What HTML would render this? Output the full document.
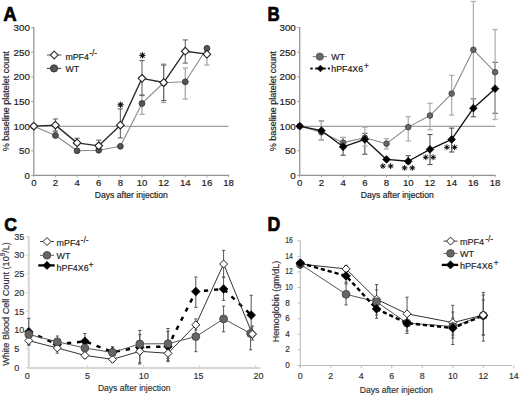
<!DOCTYPE html>
<html><head><meta charset="utf-8"><style>
html,body{margin:0;padding:0;background:#fff;}
body{width:520px;height:395px;overflow:hidden;}
svg{display:block;font-family:"Liberation Sans", sans-serif;}
</style></head><body>
<svg width="520" height="395" viewBox="0 0 520 395">
<rect width="520" height="395" fill="#fff"/>
<text transform="translate(3.30 20.90) scale(0.97 1.04)" x="0" y="0" font-size="19.2" font-weight="bold" fill="#000" stroke="#000" stroke-width="0.7" stroke-linejoin="round">A</text>
<line x1="33.80" y1="126.43" x2="228.40" y2="126.43" stroke="#a0a0a0" stroke-width="1.3" stroke-linecap="butt"/>
<line x1="33.80" y1="26.99" x2="33.80" y2="176.00" stroke="#939393" stroke-width="1.25" stroke-linecap="butt"/>
<line x1="33.20" y1="175.40" x2="229.16" y2="175.40" stroke="#939393" stroke-width="1.25" stroke-linecap="butt"/>
<line x1="31.20" y1="175.40" x2="33.80" y2="175.40" stroke="#a0a0a0" stroke-width="1.0" stroke-linecap="butt"/>
<text x="29.90" y="178.90" font-size="9.8" text-anchor="end" fill="#1a1a1a" stroke="#1a1a1a" stroke-width="0.18">0</text>
<line x1="31.20" y1="150.77" x2="33.80" y2="150.77" stroke="#a0a0a0" stroke-width="1.0" stroke-linecap="butt"/>
<text x="29.90" y="154.27" font-size="9.8" text-anchor="end" fill="#1a1a1a" stroke="#1a1a1a" stroke-width="0.18">50</text>
<line x1="31.20" y1="126.13" x2="33.80" y2="126.13" stroke="#a0a0a0" stroke-width="1.0" stroke-linecap="butt"/>
<text x="29.90" y="129.63" font-size="9.8" text-anchor="end" fill="#1a1a1a" stroke="#1a1a1a" stroke-width="0.18">100</text>
<line x1="31.20" y1="101.50" x2="33.80" y2="101.50" stroke="#a0a0a0" stroke-width="1.0" stroke-linecap="butt"/>
<text x="29.90" y="105.00" font-size="9.8" text-anchor="end" fill="#1a1a1a" stroke="#1a1a1a" stroke-width="0.18">150</text>
<line x1="31.20" y1="76.86" x2="33.80" y2="76.86" stroke="#a0a0a0" stroke-width="1.0" stroke-linecap="butt"/>
<text x="29.90" y="80.36" font-size="9.8" text-anchor="end" fill="#1a1a1a" stroke="#1a1a1a" stroke-width="0.18">200</text>
<line x1="31.20" y1="52.22" x2="33.80" y2="52.22" stroke="#a0a0a0" stroke-width="1.0" stroke-linecap="butt"/>
<text x="29.90" y="55.72" font-size="9.8" text-anchor="end" fill="#1a1a1a" stroke="#1a1a1a" stroke-width="0.18">250</text>
<line x1="31.20" y1="27.59" x2="33.80" y2="27.59" stroke="#a0a0a0" stroke-width="1.0" stroke-linecap="butt"/>
<text x="29.90" y="31.09" font-size="9.8" text-anchor="end" fill="#1a1a1a" stroke="#1a1a1a" stroke-width="0.18">300</text>
<line x1="33.80" y1="175.40" x2="33.80" y2="177.40" stroke="#a8a8a8" stroke-width="1.0" stroke-linecap="butt"/>
<text x="33.80" y="186.10" font-size="9.6" text-anchor="middle" fill="#1a1a1a" stroke="#1a1a1a" stroke-width="0.18">0</text>
<line x1="55.44" y1="175.40" x2="55.44" y2="177.40" stroke="#a8a8a8" stroke-width="1.0" stroke-linecap="butt"/>
<text x="55.44" y="186.10" font-size="9.6" text-anchor="middle" fill="#1a1a1a" stroke="#1a1a1a" stroke-width="0.18">2</text>
<line x1="77.08" y1="175.40" x2="77.08" y2="177.40" stroke="#a8a8a8" stroke-width="1.0" stroke-linecap="butt"/>
<text x="77.08" y="186.10" font-size="9.6" text-anchor="middle" fill="#1a1a1a" stroke="#1a1a1a" stroke-width="0.18">4</text>
<line x1="98.72" y1="175.40" x2="98.72" y2="177.40" stroke="#a8a8a8" stroke-width="1.0" stroke-linecap="butt"/>
<text x="98.72" y="186.10" font-size="9.6" text-anchor="middle" fill="#1a1a1a" stroke="#1a1a1a" stroke-width="0.18">6</text>
<line x1="120.36" y1="175.40" x2="120.36" y2="177.40" stroke="#a8a8a8" stroke-width="1.0" stroke-linecap="butt"/>
<text x="120.36" y="186.10" font-size="9.6" text-anchor="middle" fill="#1a1a1a" stroke="#1a1a1a" stroke-width="0.18">8</text>
<line x1="142.00" y1="175.40" x2="142.00" y2="177.40" stroke="#a8a8a8" stroke-width="1.0" stroke-linecap="butt"/>
<text x="142.00" y="186.10" font-size="9.6" text-anchor="middle" fill="#1a1a1a" stroke="#1a1a1a" stroke-width="0.18">10</text>
<line x1="163.64" y1="175.40" x2="163.64" y2="177.40" stroke="#a8a8a8" stroke-width="1.0" stroke-linecap="butt"/>
<text x="163.64" y="186.10" font-size="9.6" text-anchor="middle" fill="#1a1a1a" stroke="#1a1a1a" stroke-width="0.18">12</text>
<line x1="185.28" y1="175.40" x2="185.28" y2="177.40" stroke="#a8a8a8" stroke-width="1.0" stroke-linecap="butt"/>
<text x="185.28" y="186.10" font-size="9.6" text-anchor="middle" fill="#1a1a1a" stroke="#1a1a1a" stroke-width="0.18">14</text>
<line x1="206.92" y1="175.40" x2="206.92" y2="177.40" stroke="#a8a8a8" stroke-width="1.0" stroke-linecap="butt"/>
<text x="206.92" y="186.10" font-size="9.6" text-anchor="middle" fill="#1a1a1a" stroke="#1a1a1a" stroke-width="0.18">16</text>
<line x1="228.56" y1="175.40" x2="228.56" y2="177.40" stroke="#a8a8a8" stroke-width="1.0" stroke-linecap="butt"/>
<text x="228.56" y="186.10" font-size="9.6" text-anchor="middle" fill="#1a1a1a" stroke="#1a1a1a" stroke-width="0.18">18</text>
<text x="131.30" y="197.70" font-size="8.6" text-anchor="middle" fill="#1a1a1a" textLength="73" lengthAdjust="spacingAndGlyphs" stroke="#1a1a1a" stroke-width="0.18">Days after injection</text>
<text x="9.00" y="101.30" font-size="9" text-anchor="middle" fill="#1a1a1a" textLength="100" lengthAdjust="spacingAndGlyphs" transform="rotate(-90 9.00 101.30)" stroke="#1a1a1a" stroke-width="0.18">% baseline platelet count</text>
<polyline points="33.80,126.13 55.44,135.49 77.08,150.77 98.72,150.27 120.36,146.33 142.00,103.47 163.64,82.77 185.28,81.79 206.92,48.28" fill="none" stroke="#8a8a8a" stroke-width="1.1" stroke-linejoin="round"/>
<polyline points="33.80,126.13 55.44,125.14 77.08,142.88 98.72,145.84 120.36,125.14 142.00,78.34 163.64,82.53 185.28,51.24 206.92,54.20" fill="none" stroke="#2a2a2a" stroke-width="1.35" stroke-linejoin="round"/>
<line x1="55.44" y1="131.55" x2="55.44" y2="135.49" stroke="#a8a8a8" stroke-width="1.3" stroke-linecap="butt"/>
<line x1="52.84" y1="131.55" x2="58.04" y2="131.55" stroke="#a8a8a8" stroke-width="1.3" stroke-linecap="butt"/>
<line x1="52.84" y1="135.49" x2="58.04" y2="135.49" stroke="#a8a8a8" stroke-width="1.3" stroke-linecap="butt"/>
<line x1="142.00" y1="94.60" x2="142.00" y2="114.31" stroke="#a8a8a8" stroke-width="1.3" stroke-linecap="butt"/>
<line x1="139.40" y1="94.60" x2="144.60" y2="94.60" stroke="#a8a8a8" stroke-width="1.3" stroke-linecap="butt"/>
<line x1="139.40" y1="114.31" x2="144.60" y2="114.31" stroke="#a8a8a8" stroke-width="1.3" stroke-linecap="butt"/>
<line x1="163.64" y1="64.05" x2="163.64" y2="102.48" stroke="#a8a8a8" stroke-width="1.3" stroke-linecap="butt"/>
<line x1="161.04" y1="64.05" x2="166.24" y2="64.05" stroke="#a8a8a8" stroke-width="1.3" stroke-linecap="butt"/>
<line x1="161.04" y1="102.48" x2="166.24" y2="102.48" stroke="#a8a8a8" stroke-width="1.3" stroke-linecap="butt"/>
<line x1="185.28" y1="67.99" x2="185.28" y2="99.03" stroke="#a8a8a8" stroke-width="1.3" stroke-linecap="butt"/>
<line x1="182.68" y1="67.99" x2="187.88" y2="67.99" stroke="#a8a8a8" stroke-width="1.3" stroke-linecap="butt"/>
<line x1="182.68" y1="99.03" x2="187.88" y2="99.03" stroke="#a8a8a8" stroke-width="1.3" stroke-linecap="butt"/>
<line x1="206.92" y1="48.28" x2="206.92" y2="65.04" stroke="#a8a8a8" stroke-width="1.3" stroke-linecap="butt"/>
<line x1="204.32" y1="48.28" x2="209.52" y2="48.28" stroke="#a8a8a8" stroke-width="1.3" stroke-linecap="butt"/>
<line x1="204.32" y1="65.04" x2="209.52" y2="65.04" stroke="#a8a8a8" stroke-width="1.3" stroke-linecap="butt"/>
<line x1="55.44" y1="118.99" x2="55.44" y2="131.06" stroke="#666" stroke-width="1.1" stroke-linecap="butt"/>
<line x1="52.84" y1="118.99" x2="58.04" y2="118.99" stroke="#666" stroke-width="1.1" stroke-linecap="butt"/>
<line x1="52.84" y1="131.06" x2="58.04" y2="131.06" stroke="#666" stroke-width="1.1" stroke-linecap="butt"/>
<line x1="77.08" y1="138.20" x2="77.08" y2="142.88" stroke="#666" stroke-width="1.1" stroke-linecap="butt"/>
<line x1="74.48" y1="138.20" x2="79.68" y2="138.20" stroke="#666" stroke-width="1.1" stroke-linecap="butt"/>
<line x1="74.48" y1="142.88" x2="79.68" y2="142.88" stroke="#666" stroke-width="1.1" stroke-linecap="butt"/>
<line x1="98.72" y1="140.17" x2="98.72" y2="145.84" stroke="#666" stroke-width="1.1" stroke-linecap="butt"/>
<line x1="96.12" y1="140.17" x2="101.32" y2="140.17" stroke="#666" stroke-width="1.1" stroke-linecap="butt"/>
<line x1="96.12" y1="145.84" x2="101.32" y2="145.84" stroke="#666" stroke-width="1.1" stroke-linecap="butt"/>
<line x1="120.36" y1="108.89" x2="120.36" y2="137.95" stroke="#666" stroke-width="1.1" stroke-linecap="butt"/>
<line x1="117.76" y1="108.89" x2="122.96" y2="108.89" stroke="#666" stroke-width="1.1" stroke-linecap="butt"/>
<line x1="117.76" y1="137.95" x2="122.96" y2="137.95" stroke="#666" stroke-width="1.1" stroke-linecap="butt"/>
<line x1="142.00" y1="60.60" x2="142.00" y2="95.58" stroke="#666" stroke-width="1.1" stroke-linecap="butt"/>
<line x1="139.40" y1="60.60" x2="144.60" y2="60.60" stroke="#666" stroke-width="1.1" stroke-linecap="butt"/>
<line x1="139.40" y1="95.58" x2="144.60" y2="95.58" stroke="#666" stroke-width="1.1" stroke-linecap="butt"/>
<line x1="163.64" y1="65.04" x2="163.64" y2="100.51" stroke="#666" stroke-width="1.1" stroke-linecap="butt"/>
<line x1="161.04" y1="65.04" x2="166.24" y2="65.04" stroke="#666" stroke-width="1.1" stroke-linecap="butt"/>
<line x1="161.04" y1="100.51" x2="166.24" y2="100.51" stroke="#666" stroke-width="1.1" stroke-linecap="butt"/>
<line x1="185.28" y1="39.91" x2="185.28" y2="63.06" stroke="#666" stroke-width="1.1" stroke-linecap="butt"/>
<line x1="182.68" y1="39.91" x2="187.88" y2="39.91" stroke="#666" stroke-width="1.1" stroke-linecap="butt"/>
<line x1="182.68" y1="63.06" x2="187.88" y2="63.06" stroke="#666" stroke-width="1.1" stroke-linecap="butt"/>
<circle cx="33.80" cy="126.13" r="2.90" fill="#555" stroke="#333" stroke-width="0.9"/>
<circle cx="55.44" cy="135.49" r="2.90" fill="#555" stroke="#333" stroke-width="0.9"/>
<circle cx="77.08" cy="150.77" r="2.90" fill="#555" stroke="#333" stroke-width="0.9"/>
<circle cx="98.72" cy="150.27" r="2.90" fill="#555" stroke="#333" stroke-width="0.9"/>
<circle cx="120.36" cy="146.33" r="2.90" fill="#555" stroke="#333" stroke-width="0.9"/>
<circle cx="142.00" cy="103.47" r="2.90" fill="#555" stroke="#333" stroke-width="0.9"/>
<circle cx="163.64" cy="82.77" r="2.90" fill="#555" stroke="#333" stroke-width="0.9"/>
<circle cx="185.28" cy="81.79" r="2.90" fill="#555" stroke="#333" stroke-width="0.9"/>
<circle cx="206.92" cy="48.28" r="2.90" fill="#555" stroke="#333" stroke-width="0.9"/>
<path d="M33.80 122.28 L37.65 126.13 L33.80 129.98 L29.95 126.13 Z" fill="#fff" stroke="#222" stroke-width="1.1"/>
<path d="M55.44 121.29 L59.29 125.14 L55.44 128.99 L51.59 125.14 Z" fill="#fff" stroke="#222" stroke-width="1.1"/>
<path d="M77.08 139.03 L80.93 142.88 L77.08 146.73 L73.23 142.88 Z" fill="#fff" stroke="#222" stroke-width="1.1"/>
<path d="M98.72 141.99 L102.57 145.84 L98.72 149.69 L94.87 145.84 Z" fill="#fff" stroke="#222" stroke-width="1.1"/>
<path d="M120.36 121.29 L124.21 125.14 L120.36 128.99 L116.51 125.14 Z" fill="#fff" stroke="#222" stroke-width="1.1"/>
<path d="M142.00 74.49 L145.85 78.34 L142.00 82.19 L138.15 78.34 Z" fill="#fff" stroke="#222" stroke-width="1.1"/>
<path d="M163.64 78.68 L167.49 82.53 L163.64 86.38 L159.79 82.53 Z" fill="#fff" stroke="#222" stroke-width="1.1"/>
<path d="M185.28 47.39 L189.13 51.24 L185.28 55.09 L181.43 51.24 Z" fill="#fff" stroke="#222" stroke-width="1.1"/>
<path d="M206.92 50.35 L210.77 54.20 L206.92 58.05 L203.07 54.20 Z" fill="#fff" stroke="#222" stroke-width="1.1"/>
<line x1="120.60" y1="101.70" x2="120.60" y2="107.90" stroke="#111" stroke-width="1.05" stroke-linecap="butt"/>
<line x1="122.79" y1="102.61" x2="118.41" y2="106.99" stroke="#111" stroke-width="1.05" stroke-linecap="butt"/>
<line x1="123.70" y1="104.80" x2="117.50" y2="104.80" stroke="#111" stroke-width="1.05" stroke-linecap="butt"/>
<line x1="122.79" y1="106.99" x2="118.41" y2="102.61" stroke="#111" stroke-width="1.05" stroke-linecap="butt"/>
<circle cx="120.60" cy="104.80" r="1.3" fill="#111"/>
<line x1="142.40" y1="52.30" x2="142.40" y2="58.50" stroke="#111" stroke-width="1.05" stroke-linecap="butt"/>
<line x1="144.59" y1="53.21" x2="140.21" y2="57.59" stroke="#111" stroke-width="1.05" stroke-linecap="butt"/>
<line x1="145.50" y1="55.40" x2="139.30" y2="55.40" stroke="#111" stroke-width="1.05" stroke-linecap="butt"/>
<line x1="144.59" y1="57.59" x2="140.21" y2="53.21" stroke="#111" stroke-width="1.05" stroke-linecap="butt"/>
<circle cx="142.40" cy="55.40" r="1.3" fill="#111"/>
<line x1="47.00" y1="55.00" x2="61.40" y2="55.00" stroke="#666" stroke-width="1.1" stroke-linecap="butt"/>
<path d="M54.20 51.10 L58.10 55.00 L54.20 58.90 L50.30 55.00 Z" fill="#fff" stroke="#3a3a3a" stroke-width="1.1"/>
<text x="65.40" y="59.80" font-size="8.8" text-anchor="start" fill="#1a1a1a" stroke="#1a1a1a" stroke-width="0.18">mPF4</text>
<text x="89.20" y="56.20" font-size="8.2" fill="#1a1a1a" stroke="#1a1a1a" stroke-width="0.18">-/-</text>
<line x1="46.80" y1="68.40" x2="61.20" y2="68.40" stroke="#444" stroke-width="1.1" stroke-linecap="butt"/>
<circle cx="54.00" cy="68.40" r="3.60" fill="#555" stroke="#333" stroke-width="0.9"/>
<text x="65.40" y="71.90" font-size="8.8" text-anchor="start" fill="#1a1a1a" stroke="#1a1a1a" stroke-width="0.18">WT</text>
<text transform="translate(267.60 20.70) scale(0.88 1.06)" x="0" y="0" font-size="19.2" font-weight="bold" fill="#000" stroke="#000" stroke-width="0.7" stroke-linejoin="round">B</text>
<line x1="299.70" y1="126.43" x2="495.20" y2="126.43" stroke="#a0a0a0" stroke-width="1.3" stroke-linecap="butt"/>
<line x1="299.70" y1="26.99" x2="299.70" y2="176.00" stroke="#939393" stroke-width="1.25" stroke-linecap="butt"/>
<line x1="299.10" y1="175.40" x2="495.69" y2="175.40" stroke="#939393" stroke-width="1.25" stroke-linecap="butt"/>
<line x1="297.10" y1="175.40" x2="299.70" y2="175.40" stroke="#a0a0a0" stroke-width="1.0" stroke-linecap="butt"/>
<text x="295.80" y="178.90" font-size="9.8" text-anchor="end" fill="#1a1a1a" stroke="#1a1a1a" stroke-width="0.18">0</text>
<line x1="297.10" y1="150.77" x2="299.70" y2="150.77" stroke="#a0a0a0" stroke-width="1.0" stroke-linecap="butt"/>
<text x="295.80" y="154.27" font-size="9.8" text-anchor="end" fill="#1a1a1a" stroke="#1a1a1a" stroke-width="0.18">50</text>
<line x1="297.10" y1="126.13" x2="299.70" y2="126.13" stroke="#a0a0a0" stroke-width="1.0" stroke-linecap="butt"/>
<text x="295.80" y="129.63" font-size="9.8" text-anchor="end" fill="#1a1a1a" stroke="#1a1a1a" stroke-width="0.18">100</text>
<line x1="297.10" y1="101.50" x2="299.70" y2="101.50" stroke="#a0a0a0" stroke-width="1.0" stroke-linecap="butt"/>
<text x="295.80" y="105.00" font-size="9.8" text-anchor="end" fill="#1a1a1a" stroke="#1a1a1a" stroke-width="0.18">150</text>
<line x1="297.10" y1="76.86" x2="299.70" y2="76.86" stroke="#a0a0a0" stroke-width="1.0" stroke-linecap="butt"/>
<text x="295.80" y="80.36" font-size="9.8" text-anchor="end" fill="#1a1a1a" stroke="#1a1a1a" stroke-width="0.18">200</text>
<line x1="297.10" y1="52.22" x2="299.70" y2="52.22" stroke="#a0a0a0" stroke-width="1.0" stroke-linecap="butt"/>
<text x="295.80" y="55.72" font-size="9.8" text-anchor="end" fill="#1a1a1a" stroke="#1a1a1a" stroke-width="0.18">250</text>
<line x1="297.10" y1="27.59" x2="299.70" y2="27.59" stroke="#a0a0a0" stroke-width="1.0" stroke-linecap="butt"/>
<text x="295.80" y="31.09" font-size="9.8" text-anchor="end" fill="#1a1a1a" stroke="#1a1a1a" stroke-width="0.18">300</text>
<line x1="299.70" y1="175.40" x2="299.70" y2="177.40" stroke="#a8a8a8" stroke-width="1.0" stroke-linecap="butt"/>
<text x="299.70" y="186.10" font-size="9.6" text-anchor="middle" fill="#1a1a1a" stroke="#1a1a1a" stroke-width="0.18">0</text>
<line x1="321.41" y1="175.40" x2="321.41" y2="177.40" stroke="#a8a8a8" stroke-width="1.0" stroke-linecap="butt"/>
<text x="321.41" y="186.10" font-size="9.6" text-anchor="middle" fill="#1a1a1a" stroke="#1a1a1a" stroke-width="0.18">2</text>
<line x1="343.12" y1="175.40" x2="343.12" y2="177.40" stroke="#a8a8a8" stroke-width="1.0" stroke-linecap="butt"/>
<text x="343.12" y="186.10" font-size="9.6" text-anchor="middle" fill="#1a1a1a" stroke="#1a1a1a" stroke-width="0.18">4</text>
<line x1="364.83" y1="175.40" x2="364.83" y2="177.40" stroke="#a8a8a8" stroke-width="1.0" stroke-linecap="butt"/>
<text x="364.83" y="186.10" font-size="9.6" text-anchor="middle" fill="#1a1a1a" stroke="#1a1a1a" stroke-width="0.18">6</text>
<line x1="386.54" y1="175.40" x2="386.54" y2="177.40" stroke="#a8a8a8" stroke-width="1.0" stroke-linecap="butt"/>
<text x="386.54" y="186.10" font-size="9.6" text-anchor="middle" fill="#1a1a1a" stroke="#1a1a1a" stroke-width="0.18">8</text>
<line x1="408.25" y1="175.40" x2="408.25" y2="177.40" stroke="#a8a8a8" stroke-width="1.0" stroke-linecap="butt"/>
<text x="408.25" y="186.10" font-size="9.6" text-anchor="middle" fill="#1a1a1a" stroke="#1a1a1a" stroke-width="0.18">10</text>
<line x1="429.96" y1="175.40" x2="429.96" y2="177.40" stroke="#a8a8a8" stroke-width="1.0" stroke-linecap="butt"/>
<text x="429.96" y="186.10" font-size="9.6" text-anchor="middle" fill="#1a1a1a" stroke="#1a1a1a" stroke-width="0.18">12</text>
<line x1="451.67" y1="175.40" x2="451.67" y2="177.40" stroke="#a8a8a8" stroke-width="1.0" stroke-linecap="butt"/>
<text x="451.67" y="186.10" font-size="9.6" text-anchor="middle" fill="#1a1a1a" stroke="#1a1a1a" stroke-width="0.18">14</text>
<line x1="473.38" y1="175.40" x2="473.38" y2="177.40" stroke="#a8a8a8" stroke-width="1.0" stroke-linecap="butt"/>
<text x="473.38" y="186.10" font-size="9.6" text-anchor="middle" fill="#1a1a1a" stroke="#1a1a1a" stroke-width="0.18">16</text>
<line x1="495.09" y1="175.40" x2="495.09" y2="177.40" stroke="#a8a8a8" stroke-width="1.0" stroke-linecap="butt"/>
<text x="495.09" y="186.10" font-size="9.6" text-anchor="middle" fill="#1a1a1a" stroke="#1a1a1a" stroke-width="0.18">18</text>
<text x="397.20" y="197.70" font-size="8.6" text-anchor="middle" fill="#1a1a1a" textLength="73" lengthAdjust="spacingAndGlyphs" stroke="#1a1a1a" stroke-width="0.18">Days after injection</text>
<text x="275.70" y="101.30" font-size="9" text-anchor="middle" fill="#1a1a1a" textLength="100" lengthAdjust="spacingAndGlyphs" transform="rotate(-90 275.70 101.30)" stroke="#1a1a1a" stroke-width="0.18">% baseline platelet count</text>
<polyline points="299.70,126.13 321.41,132.29 343.12,142.64 364.83,137.71 386.54,143.67 408.25,127.12 429.96,115.54 451.67,93.61 473.38,49.76 495.09,72.18" fill="none" stroke="#8a8a8a" stroke-width="1.1" stroke-linejoin="round"/>
<polyline points="299.70,126.13 321.41,130.56 343.12,146.82 364.83,139.43 386.54,159.39 408.25,161.26 429.96,149.39 451.67,139.43 473.38,108.15 495.09,88.68" fill="none" stroke="#111" stroke-width="1.35" stroke-linejoin="round"/>
<line x1="321.41" y1="120.96" x2="321.41" y2="139.78" stroke="#555" stroke-width="1.1" stroke-linecap="butt"/>
<line x1="318.81" y1="120.96" x2="324.01" y2="120.96" stroke="#555" stroke-width="1.1" stroke-linecap="butt"/>
<line x1="318.81" y1="139.78" x2="324.01" y2="139.78" stroke="#555" stroke-width="1.1" stroke-linecap="butt"/>
<line x1="343.12" y1="137.46" x2="343.12" y2="155.20" stroke="#555" stroke-width="1.1" stroke-linecap="butt"/>
<line x1="340.52" y1="137.46" x2="345.72" y2="137.46" stroke="#555" stroke-width="1.1" stroke-linecap="butt"/>
<line x1="340.52" y1="155.20" x2="345.72" y2="155.20" stroke="#555" stroke-width="1.1" stroke-linecap="butt"/>
<line x1="364.83" y1="133.37" x2="364.83" y2="154.21" stroke="#555" stroke-width="1.1" stroke-linecap="butt"/>
<line x1="362.23" y1="133.37" x2="367.43" y2="133.37" stroke="#555" stroke-width="1.1" stroke-linecap="butt"/>
<line x1="362.23" y1="154.21" x2="367.43" y2="154.21" stroke="#555" stroke-width="1.1" stroke-linecap="butt"/>
<line x1="408.25" y1="155.69" x2="408.25" y2="163.58" stroke="#555" stroke-width="1.1" stroke-linecap="butt"/>
<line x1="405.65" y1="155.69" x2="410.85" y2="155.69" stroke="#555" stroke-width="1.1" stroke-linecap="butt"/>
<line x1="405.65" y1="163.58" x2="410.85" y2="163.58" stroke="#555" stroke-width="1.1" stroke-linecap="butt"/>
<line x1="429.96" y1="134.51" x2="429.96" y2="164.56" stroke="#555" stroke-width="1.1" stroke-linecap="butt"/>
<line x1="427.36" y1="134.51" x2="432.56" y2="134.51" stroke="#555" stroke-width="1.1" stroke-linecap="butt"/>
<line x1="427.36" y1="164.56" x2="432.56" y2="164.56" stroke="#555" stroke-width="1.1" stroke-linecap="butt"/>
<line x1="451.67" y1="128.10" x2="451.67" y2="152.00" stroke="#555" stroke-width="1.1" stroke-linecap="butt"/>
<line x1="449.07" y1="128.10" x2="454.27" y2="128.10" stroke="#555" stroke-width="1.1" stroke-linecap="butt"/>
<line x1="449.07" y1="152.00" x2="454.27" y2="152.00" stroke="#555" stroke-width="1.1" stroke-linecap="butt"/>
<line x1="473.38" y1="98.54" x2="473.38" y2="116.77" stroke="#555" stroke-width="1.1" stroke-linecap="butt"/>
<line x1="470.78" y1="98.54" x2="475.98" y2="98.54" stroke="#555" stroke-width="1.1" stroke-linecap="butt"/>
<line x1="470.78" y1="116.77" x2="475.98" y2="116.77" stroke="#555" stroke-width="1.1" stroke-linecap="butt"/>
<line x1="495.09" y1="62.33" x2="495.09" y2="113.32" stroke="#555" stroke-width="1.1" stroke-linecap="butt"/>
<line x1="492.49" y1="62.33" x2="497.69" y2="62.33" stroke="#555" stroke-width="1.1" stroke-linecap="butt"/>
<line x1="492.49" y1="113.32" x2="497.69" y2="113.32" stroke="#555" stroke-width="1.1" stroke-linecap="butt"/>
<line x1="321.41" y1="121.20" x2="321.41" y2="139.93" stroke="#b0b0b0" stroke-width="1.3" stroke-linecap="butt"/>
<line x1="318.81" y1="121.20" x2="324.01" y2="121.20" stroke="#b0b0b0" stroke-width="1.3" stroke-linecap="butt"/>
<line x1="318.81" y1="139.93" x2="324.01" y2="139.93" stroke="#b0b0b0" stroke-width="1.3" stroke-linecap="butt"/>
<line x1="343.12" y1="137.46" x2="343.12" y2="147.81" stroke="#b0b0b0" stroke-width="1.3" stroke-linecap="butt"/>
<line x1="340.52" y1="137.46" x2="345.72" y2="137.46" stroke="#b0b0b0" stroke-width="1.3" stroke-linecap="butt"/>
<line x1="340.52" y1="147.81" x2="345.72" y2="147.81" stroke="#b0b0b0" stroke-width="1.3" stroke-linecap="butt"/>
<line x1="364.83" y1="127.26" x2="364.83" y2="146.08" stroke="#b0b0b0" stroke-width="1.3" stroke-linecap="butt"/>
<line x1="362.23" y1="127.26" x2="367.43" y2="127.26" stroke="#b0b0b0" stroke-width="1.3" stroke-linecap="butt"/>
<line x1="362.23" y1="146.08" x2="367.43" y2="146.08" stroke="#b0b0b0" stroke-width="1.3" stroke-linecap="butt"/>
<line x1="386.54" y1="138.69" x2="386.54" y2="148.99" stroke="#b0b0b0" stroke-width="1.3" stroke-linecap="butt"/>
<line x1="383.94" y1="138.69" x2="389.14" y2="138.69" stroke="#b0b0b0" stroke-width="1.3" stroke-linecap="butt"/>
<line x1="383.94" y1="148.99" x2="389.14" y2="148.99" stroke="#b0b0b0" stroke-width="1.3" stroke-linecap="butt"/>
<line x1="408.25" y1="116.62" x2="408.25" y2="140.96" stroke="#b0b0b0" stroke-width="1.3" stroke-linecap="butt"/>
<line x1="405.65" y1="116.62" x2="410.85" y2="116.62" stroke="#b0b0b0" stroke-width="1.3" stroke-linecap="butt"/>
<line x1="405.65" y1="140.96" x2="410.85" y2="140.96" stroke="#b0b0b0" stroke-width="1.3" stroke-linecap="butt"/>
<line x1="429.96" y1="103.37" x2="429.96" y2="129.78" stroke="#b0b0b0" stroke-width="1.3" stroke-linecap="butt"/>
<line x1="427.36" y1="103.37" x2="432.56" y2="103.37" stroke="#b0b0b0" stroke-width="1.3" stroke-linecap="butt"/>
<line x1="427.36" y1="129.78" x2="432.56" y2="129.78" stroke="#b0b0b0" stroke-width="1.3" stroke-linecap="butt"/>
<line x1="451.67" y1="75.38" x2="451.67" y2="115.04" stroke="#b0b0b0" stroke-width="1.3" stroke-linecap="butt"/>
<line x1="449.07" y1="75.38" x2="454.27" y2="75.38" stroke="#b0b0b0" stroke-width="1.3" stroke-linecap="butt"/>
<line x1="449.07" y1="115.04" x2="454.27" y2="115.04" stroke="#b0b0b0" stroke-width="1.3" stroke-linecap="butt"/>
<line x1="473.38" y1="1.48" x2="473.38" y2="99.03" stroke="#b0b0b0" stroke-width="1.3" stroke-linecap="butt"/>
<line x1="470.78" y1="1.48" x2="475.98" y2="1.48" stroke="#b0b0b0" stroke-width="1.3" stroke-linecap="butt"/>
<line x1="470.78" y1="99.03" x2="475.98" y2="99.03" stroke="#b0b0b0" stroke-width="1.3" stroke-linecap="butt"/>
<line x1="495.09" y1="29.56" x2="495.09" y2="119.48" stroke="#b0b0b0" stroke-width="1.3" stroke-linecap="butt"/>
<line x1="492.49" y1="29.56" x2="497.69" y2="29.56" stroke="#b0b0b0" stroke-width="1.3" stroke-linecap="butt"/>
<line x1="492.49" y1="119.48" x2="497.69" y2="119.48" stroke="#b0b0b0" stroke-width="1.3" stroke-linecap="butt"/>
<circle cx="299.70" cy="126.13" r="2.80" fill="#666" stroke="#444" stroke-width="0.9"/>
<circle cx="321.41" cy="132.29" r="2.80" fill="#666" stroke="#444" stroke-width="0.9"/>
<circle cx="343.12" cy="142.64" r="2.80" fill="#666" stroke="#444" stroke-width="0.9"/>
<circle cx="364.83" cy="137.71" r="2.80" fill="#666" stroke="#444" stroke-width="0.9"/>
<circle cx="386.54" cy="143.67" r="2.80" fill="#666" stroke="#444" stroke-width="0.9"/>
<circle cx="408.25" cy="127.12" r="2.80" fill="#666" stroke="#444" stroke-width="0.9"/>
<circle cx="429.96" cy="115.54" r="2.80" fill="#666" stroke="#444" stroke-width="0.9"/>
<circle cx="451.67" cy="93.61" r="2.80" fill="#666" stroke="#444" stroke-width="0.9"/>
<circle cx="473.38" cy="49.76" r="2.80" fill="#666" stroke="#444" stroke-width="0.9"/>
<circle cx="495.09" cy="72.18" r="2.80" fill="#666" stroke="#444" stroke-width="0.9"/>
<path d="M299.70 122.23 L303.60 126.13 L299.70 130.03 L295.80 126.13 Z" fill="#000" stroke="#000" stroke-width="0.6"/>
<path d="M321.41 126.66 L325.31 130.56 L321.41 134.46 L317.51 130.56 Z" fill="#000" stroke="#000" stroke-width="0.6"/>
<path d="M343.12 142.92 L347.02 146.82 L343.12 150.72 L339.22 146.82 Z" fill="#000" stroke="#000" stroke-width="0.6"/>
<path d="M364.83 135.53 L368.73 139.43 L364.83 143.33 L360.93 139.43 Z" fill="#000" stroke="#000" stroke-width="0.6"/>
<path d="M386.54 155.49 L390.44 159.39 L386.54 163.29 L382.64 159.39 Z" fill="#000" stroke="#000" stroke-width="0.6"/>
<path d="M408.25 157.36 L412.15 161.26 L408.25 165.16 L404.35 161.26 Z" fill="#000" stroke="#000" stroke-width="0.6"/>
<path d="M429.96 145.49 L433.86 149.39 L429.96 153.29 L426.06 149.39 Z" fill="#000" stroke="#000" stroke-width="0.6"/>
<path d="M451.67 135.53 L455.57 139.43 L451.67 143.33 L447.77 139.43 Z" fill="#000" stroke="#000" stroke-width="0.6"/>
<path d="M473.38 104.25 L477.28 108.15 L473.38 112.05 L469.48 108.15 Z" fill="#000" stroke="#000" stroke-width="0.6"/>
<path d="M495.09 84.78 L498.99 88.68 L495.09 92.58 L491.19 88.68 Z" fill="#000" stroke="#000" stroke-width="0.6"/>
<line x1="382.90" y1="163.20" x2="382.90" y2="169.00" stroke="#111" stroke-width="1.0" stroke-linecap="butt"/>
<line x1="384.95" y1="164.05" x2="380.85" y2="168.15" stroke="#111" stroke-width="1.0" stroke-linecap="butt"/>
<line x1="385.80" y1="166.10" x2="380.00" y2="166.10" stroke="#111" stroke-width="1.0" stroke-linecap="butt"/>
<line x1="384.95" y1="168.15" x2="380.85" y2="164.05" stroke="#111" stroke-width="1.0" stroke-linecap="butt"/>
<circle cx="382.90" cy="166.10" r="1.2" fill="#111"/>
<line x1="390.65" y1="163.20" x2="390.65" y2="169.00" stroke="#111" stroke-width="1.0" stroke-linecap="butt"/>
<line x1="392.70" y1="164.05" x2="388.60" y2="168.15" stroke="#111" stroke-width="1.0" stroke-linecap="butt"/>
<line x1="393.55" y1="166.10" x2="387.75" y2="166.10" stroke="#111" stroke-width="1.0" stroke-linecap="butt"/>
<line x1="392.70" y1="168.15" x2="388.60" y2="164.05" stroke="#111" stroke-width="1.0" stroke-linecap="butt"/>
<circle cx="390.65" cy="166.10" r="1.2" fill="#111"/>
<line x1="404.60" y1="165.00" x2="404.60" y2="170.80" stroke="#111" stroke-width="1.0" stroke-linecap="butt"/>
<line x1="406.65" y1="165.85" x2="402.55" y2="169.95" stroke="#111" stroke-width="1.0" stroke-linecap="butt"/>
<line x1="407.50" y1="167.90" x2="401.70" y2="167.90" stroke="#111" stroke-width="1.0" stroke-linecap="butt"/>
<line x1="406.65" y1="169.95" x2="402.55" y2="165.85" stroke="#111" stroke-width="1.0" stroke-linecap="butt"/>
<circle cx="404.60" cy="167.90" r="1.2" fill="#111"/>
<line x1="412.30" y1="165.00" x2="412.30" y2="170.80" stroke="#111" stroke-width="1.0" stroke-linecap="butt"/>
<line x1="414.35" y1="165.85" x2="410.25" y2="169.95" stroke="#111" stroke-width="1.0" stroke-linecap="butt"/>
<line x1="415.20" y1="167.90" x2="409.40" y2="167.90" stroke="#111" stroke-width="1.0" stroke-linecap="butt"/>
<line x1="414.35" y1="169.95" x2="410.25" y2="165.85" stroke="#111" stroke-width="1.0" stroke-linecap="butt"/>
<circle cx="412.30" cy="167.90" r="1.2" fill="#111"/>
<line x1="425.80" y1="154.40" x2="425.80" y2="160.20" stroke="#111" stroke-width="1.0" stroke-linecap="butt"/>
<line x1="427.85" y1="155.25" x2="423.75" y2="159.35" stroke="#111" stroke-width="1.0" stroke-linecap="butt"/>
<line x1="428.70" y1="157.30" x2="422.90" y2="157.30" stroke="#111" stroke-width="1.0" stroke-linecap="butt"/>
<line x1="427.85" y1="159.35" x2="423.75" y2="155.25" stroke="#111" stroke-width="1.0" stroke-linecap="butt"/>
<circle cx="425.80" cy="157.30" r="1.2" fill="#111"/>
<line x1="433.10" y1="154.40" x2="433.10" y2="160.20" stroke="#111" stroke-width="1.0" stroke-linecap="butt"/>
<line x1="435.15" y1="155.25" x2="431.05" y2="159.35" stroke="#111" stroke-width="1.0" stroke-linecap="butt"/>
<line x1="436.00" y1="157.30" x2="430.20" y2="157.30" stroke="#111" stroke-width="1.0" stroke-linecap="butt"/>
<line x1="435.15" y1="159.35" x2="431.05" y2="155.25" stroke="#111" stroke-width="1.0" stroke-linecap="butt"/>
<circle cx="433.10" cy="157.30" r="1.2" fill="#111"/>
<line x1="446.90" y1="144.40" x2="446.90" y2="150.20" stroke="#111" stroke-width="1.0" stroke-linecap="butt"/>
<line x1="448.95" y1="145.25" x2="444.85" y2="149.35" stroke="#111" stroke-width="1.0" stroke-linecap="butt"/>
<line x1="449.80" y1="147.30" x2="444.00" y2="147.30" stroke="#111" stroke-width="1.0" stroke-linecap="butt"/>
<line x1="448.95" y1="149.35" x2="444.85" y2="145.25" stroke="#111" stroke-width="1.0" stroke-linecap="butt"/>
<circle cx="446.90" cy="147.30" r="1.2" fill="#111"/>
<line x1="454.60" y1="144.40" x2="454.60" y2="150.20" stroke="#111" stroke-width="1.0" stroke-linecap="butt"/>
<line x1="456.65" y1="145.25" x2="452.55" y2="149.35" stroke="#111" stroke-width="1.0" stroke-linecap="butt"/>
<line x1="457.50" y1="147.30" x2="451.70" y2="147.30" stroke="#111" stroke-width="1.0" stroke-linecap="butt"/>
<line x1="456.65" y1="149.35" x2="452.55" y2="145.25" stroke="#111" stroke-width="1.0" stroke-linecap="butt"/>
<circle cx="454.60" cy="147.30" r="1.2" fill="#111"/>
<line x1="312.60" y1="56.60" x2="327.00" y2="56.60" stroke="#888" stroke-width="1.1" stroke-linecap="butt"/>
<circle cx="319.80" cy="56.60" r="3.60" fill="#6a6a6a" stroke="#555" stroke-width="0.9"/>
<text x="331.30" y="60.20" font-size="8.8" text-anchor="start" fill="#1a1a1a" stroke="#1a1a1a" stroke-width="0.18">WT</text>
<line x1="310.20" y1="68.50" x2="312.80" y2="68.50" stroke="#111" stroke-width="1.9" stroke-linecap="butt"/>
<line x1="315.10" y1="68.50" x2="318.50" y2="68.50" stroke="#111" stroke-width="1.9" stroke-linecap="butt"/>
<line x1="322.60" y1="68.50" x2="325.80" y2="68.50" stroke="#111" stroke-width="1.9" stroke-linecap="butt"/>
<line x1="327.80" y1="68.50" x2="329.90" y2="68.50" stroke="#111" stroke-width="1.9" stroke-linecap="butt"/>
<path d="M320.40 65.20 L323.70 68.50 L320.40 71.80 L317.10 68.50 Z" fill="#000" stroke="#000" stroke-width="0.6"/>
<text x="331.30" y="72.40" font-size="8.8" text-anchor="start" fill="#1a1a1a" stroke="#1a1a1a" stroke-width="0.18">hPF4X6</text>
<text x="364.00" y="68.60" font-size="8.2" fill="#1a1a1a" stroke="#1a1a1a" stroke-width="0.18">+</text>
<text transform="translate(4.20 231.10) scale(0.92 1.0)" x="0" y="0" font-size="19.2" font-weight="bold" fill="#000" stroke="#000" stroke-width="0.7" stroke-linejoin="round">C</text>
<line x1="28.80" y1="236.53" x2="28.80" y2="369.00" stroke="#d6d6d6" stroke-width="2.0" stroke-linecap="butt"/>
<line x1="27.80" y1="368.00" x2="260.40" y2="368.00" stroke="#d6d6d6" stroke-width="2.0" stroke-linecap="butt"/>
<line x1="87.30" y1="365.00" x2="87.30" y2="367.00" stroke="#d6d6d6" stroke-width="1" stroke-linecap="butt"/>
<line x1="143.50" y1="365.00" x2="143.50" y2="367.00" stroke="#d6d6d6" stroke-width="1" stroke-linecap="butt"/>
<line x1="199.30" y1="365.00" x2="199.30" y2="367.00" stroke="#d6d6d6" stroke-width="1" stroke-linecap="butt"/>
<line x1="255.30" y1="365.00" x2="255.30" y2="367.00" stroke="#d6d6d6" stroke-width="1" stroke-linecap="butt"/>
<line x1="25.80" y1="367.60" x2="28.80" y2="367.60" stroke="#d6d6d6" stroke-width="1.2" stroke-linecap="butt"/>
<text x="14.20" y="370.80" font-size="9" text-anchor="start" fill="#333" stroke="#222" stroke-width="0.15">0</text>
<line x1="25.80" y1="348.88" x2="28.80" y2="348.88" stroke="#d6d6d6" stroke-width="1.2" stroke-linecap="butt"/>
<text x="14.20" y="352.07" font-size="9" text-anchor="start" fill="#333" stroke="#222" stroke-width="0.15">5</text>
<line x1="25.80" y1="330.15" x2="28.80" y2="330.15" stroke="#d6d6d6" stroke-width="1.2" stroke-linecap="butt"/>
<text x="14.20" y="333.35" font-size="9" text-anchor="start" fill="#333" stroke="#222" stroke-width="0.15">10</text>
<line x1="25.80" y1="311.43" x2="28.80" y2="311.43" stroke="#d6d6d6" stroke-width="1.2" stroke-linecap="butt"/>
<text x="14.20" y="314.62" font-size="9" text-anchor="start" fill="#333" stroke="#222" stroke-width="0.15">15</text>
<line x1="25.80" y1="292.70" x2="28.80" y2="292.70" stroke="#d6d6d6" stroke-width="1.2" stroke-linecap="butt"/>
<text x="14.20" y="295.90" font-size="9" text-anchor="start" fill="#333" stroke="#222" stroke-width="0.15">20</text>
<line x1="25.80" y1="273.98" x2="28.80" y2="273.98" stroke="#d6d6d6" stroke-width="1.2" stroke-linecap="butt"/>
<text x="14.20" y="277.18" font-size="9" text-anchor="start" fill="#333" stroke="#222" stroke-width="0.15">25</text>
<line x1="25.80" y1="255.25" x2="28.80" y2="255.25" stroke="#d6d6d6" stroke-width="1.2" stroke-linecap="butt"/>
<text x="14.20" y="258.45" font-size="9" text-anchor="start" fill="#333" stroke="#222" stroke-width="0.15">30</text>
<line x1="25.80" y1="236.53" x2="28.80" y2="236.53" stroke="#d6d6d6" stroke-width="1.2" stroke-linecap="butt"/>
<text x="14.20" y="239.72" font-size="9" text-anchor="start" fill="#333" stroke="#222" stroke-width="0.15">35</text>
<text x="27.20" y="378.60" font-size="9" text-anchor="middle" fill="#333" stroke="#222" stroke-width="0.15">0</text>
<text x="87.50" y="378.60" font-size="9" text-anchor="middle" fill="#333" stroke="#222" stroke-width="0.15">5</text>
<text x="143.70" y="378.60" font-size="9" text-anchor="middle" fill="#333" stroke="#222" stroke-width="0.15">10</text>
<text x="198.60" y="378.60" font-size="9" text-anchor="middle" fill="#333" stroke="#222" stroke-width="0.15">15</text>
<text x="258.50" y="378.60" font-size="9" text-anchor="middle" fill="#333" stroke="#222" stroke-width="0.15">20</text>
<text x="134.20" y="391.30" font-size="8.6" text-anchor="middle" fill="#333" textLength="72.5" lengthAdjust="spacingAndGlyphs" stroke="#222" stroke-width="0.15">Days after injection</text>
<text x="8.7" y="304.0" font-size="9" text-anchor="middle" fill="#333" stroke="#222" stroke-width="0.15" transform="rotate(-90 8.7 304.0)" textLength="123.7" lengthAdjust="spacingAndGlyphs">White Blood Cell Count (10<tspan font-size="6.3" dy="-3.2">9</tspan><tspan dy="3.2">/L)</tspan></text>
<polyline points="28.80,331.80 57.30,344.40 84.90,341.30 112.50,352.00 139.80,347.30 168.00,346.50 195.80,291.50 223.60,289.00 251.20,315.10" fill="none" stroke="#000" stroke-width="2.5" stroke-linejoin="round" stroke-dasharray="4.3 5.9"/>
<polyline points="28.80,340.60 57.30,348.00 84.90,355.40 112.50,359.30 139.80,351.30 168.00,353.30 195.80,324.80 223.60,264.00 252.40,334.10" fill="none" stroke="#333" stroke-width="1.0" stroke-linejoin="round"/>
<polyline points="28.80,334.40 57.30,341.80 84.90,348.00 112.50,352.50 139.80,343.90 168.00,343.70 195.80,336.60 223.60,318.90 250.60,333.40" fill="none" stroke="#555" stroke-width="1.0" stroke-linejoin="round"/>
<line x1="28.80" y1="318.40" x2="28.80" y2="345.00" stroke="#555" stroke-width="1.0" stroke-linecap="butt"/>
<line x1="27.20" y1="318.40" x2="30.40" y2="318.40" stroke="#555" stroke-width="1.0" stroke-linecap="butt"/>
<line x1="27.20" y1="345.00" x2="30.40" y2="345.00" stroke="#555" stroke-width="1.0" stroke-linecap="butt"/>
<line x1="57.30" y1="340.00" x2="57.30" y2="349.00" stroke="#555" stroke-width="1.0" stroke-linecap="butt"/>
<line x1="55.70" y1="340.00" x2="58.90" y2="340.00" stroke="#555" stroke-width="1.0" stroke-linecap="butt"/>
<line x1="55.70" y1="349.00" x2="58.90" y2="349.00" stroke="#555" stroke-width="1.0" stroke-linecap="butt"/>
<line x1="84.90" y1="333.50" x2="84.90" y2="349.00" stroke="#555" stroke-width="1.0" stroke-linecap="butt"/>
<line x1="83.30" y1="333.50" x2="86.50" y2="333.50" stroke="#555" stroke-width="1.0" stroke-linecap="butt"/>
<line x1="83.30" y1="349.00" x2="86.50" y2="349.00" stroke="#555" stroke-width="1.0" stroke-linecap="butt"/>
<line x1="112.50" y1="347.00" x2="112.50" y2="357.00" stroke="#555" stroke-width="1.0" stroke-linecap="butt"/>
<line x1="110.90" y1="347.00" x2="114.10" y2="347.00" stroke="#555" stroke-width="1.0" stroke-linecap="butt"/>
<line x1="110.90" y1="357.00" x2="114.10" y2="357.00" stroke="#555" stroke-width="1.0" stroke-linecap="butt"/>
<line x1="139.80" y1="330.50" x2="139.80" y2="364.00" stroke="#555" stroke-width="1.0" stroke-linecap="butt"/>
<line x1="138.20" y1="330.50" x2="141.40" y2="330.50" stroke="#555" stroke-width="1.0" stroke-linecap="butt"/>
<line x1="138.20" y1="364.00" x2="141.40" y2="364.00" stroke="#555" stroke-width="1.0" stroke-linecap="butt"/>
<line x1="168.00" y1="331.40" x2="168.00" y2="361.60" stroke="#555" stroke-width="1.0" stroke-linecap="butt"/>
<line x1="166.40" y1="331.40" x2="169.60" y2="331.40" stroke="#555" stroke-width="1.0" stroke-linecap="butt"/>
<line x1="166.40" y1="361.60" x2="169.60" y2="361.60" stroke="#555" stroke-width="1.0" stroke-linecap="butt"/>
<line x1="195.80" y1="277.00" x2="195.80" y2="307.30" stroke="#555" stroke-width="1.0" stroke-linecap="butt"/>
<line x1="194.20" y1="277.00" x2="197.40" y2="277.00" stroke="#555" stroke-width="1.0" stroke-linecap="butt"/>
<line x1="194.20" y1="307.30" x2="197.40" y2="307.30" stroke="#555" stroke-width="1.0" stroke-linecap="butt"/>
<line x1="223.60" y1="277.60" x2="223.60" y2="300.40" stroke="#555" stroke-width="1.0" stroke-linecap="butt"/>
<line x1="222.00" y1="277.60" x2="225.20" y2="277.60" stroke="#555" stroke-width="1.0" stroke-linecap="butt"/>
<line x1="222.00" y1="300.40" x2="225.20" y2="300.40" stroke="#555" stroke-width="1.0" stroke-linecap="butt"/>
<line x1="251.20" y1="295.30" x2="251.20" y2="335.00" stroke="#555" stroke-width="1.0" stroke-linecap="butt"/>
<line x1="249.60" y1="295.30" x2="252.80" y2="295.30" stroke="#555" stroke-width="1.0" stroke-linecap="butt"/>
<line x1="249.60" y1="335.00" x2="252.80" y2="335.00" stroke="#555" stroke-width="1.0" stroke-linecap="butt"/>
<line x1="28.80" y1="336.00" x2="28.80" y2="345.00" stroke="#555" stroke-width="1.0" stroke-linecap="butt"/>
<line x1="27.20" y1="336.00" x2="30.40" y2="336.00" stroke="#555" stroke-width="1.0" stroke-linecap="butt"/>
<line x1="27.20" y1="345.00" x2="30.40" y2="345.00" stroke="#555" stroke-width="1.0" stroke-linecap="butt"/>
<line x1="57.30" y1="344.00" x2="57.30" y2="353.20" stroke="#555" stroke-width="1.0" stroke-linecap="butt"/>
<line x1="55.70" y1="344.00" x2="58.90" y2="344.00" stroke="#555" stroke-width="1.0" stroke-linecap="butt"/>
<line x1="55.70" y1="353.20" x2="58.90" y2="353.20" stroke="#555" stroke-width="1.0" stroke-linecap="butt"/>
<line x1="84.90" y1="352.00" x2="84.90" y2="358.50" stroke="#555" stroke-width="1.0" stroke-linecap="butt"/>
<line x1="83.30" y1="352.00" x2="86.50" y2="352.00" stroke="#555" stroke-width="1.0" stroke-linecap="butt"/>
<line x1="83.30" y1="358.50" x2="86.50" y2="358.50" stroke="#555" stroke-width="1.0" stroke-linecap="butt"/>
<line x1="112.50" y1="356.00" x2="112.50" y2="362.50" stroke="#555" stroke-width="1.0" stroke-linecap="butt"/>
<line x1="110.90" y1="356.00" x2="114.10" y2="356.00" stroke="#555" stroke-width="1.0" stroke-linecap="butt"/>
<line x1="110.90" y1="362.50" x2="114.10" y2="362.50" stroke="#555" stroke-width="1.0" stroke-linecap="butt"/>
<line x1="139.80" y1="345.00" x2="139.80" y2="362.70" stroke="#555" stroke-width="1.0" stroke-linecap="butt"/>
<line x1="138.20" y1="345.00" x2="141.40" y2="345.00" stroke="#555" stroke-width="1.0" stroke-linecap="butt"/>
<line x1="138.20" y1="362.70" x2="141.40" y2="362.70" stroke="#555" stroke-width="1.0" stroke-linecap="butt"/>
<line x1="168.00" y1="349.00" x2="168.00" y2="360.40" stroke="#555" stroke-width="1.0" stroke-linecap="butt"/>
<line x1="166.40" y1="349.00" x2="169.60" y2="349.00" stroke="#555" stroke-width="1.0" stroke-linecap="butt"/>
<line x1="166.40" y1="360.40" x2="169.60" y2="360.40" stroke="#555" stroke-width="1.0" stroke-linecap="butt"/>
<line x1="195.80" y1="318.90" x2="195.80" y2="330.00" stroke="#555" stroke-width="1.0" stroke-linecap="butt"/>
<line x1="194.20" y1="318.90" x2="197.40" y2="318.90" stroke="#555" stroke-width="1.0" stroke-linecap="butt"/>
<line x1="194.20" y1="330.00" x2="197.40" y2="330.00" stroke="#555" stroke-width="1.0" stroke-linecap="butt"/>
<line x1="223.60" y1="250.40" x2="223.60" y2="277.00" stroke="#555" stroke-width="1.0" stroke-linecap="butt"/>
<line x1="222.00" y1="250.40" x2="225.20" y2="250.40" stroke="#555" stroke-width="1.0" stroke-linecap="butt"/>
<line x1="222.00" y1="277.00" x2="225.20" y2="277.00" stroke="#555" stroke-width="1.0" stroke-linecap="butt"/>
<line x1="252.40" y1="326.00" x2="252.40" y2="340.00" stroke="#555" stroke-width="1.0" stroke-linecap="butt"/>
<line x1="250.80" y1="326.00" x2="254.00" y2="326.00" stroke="#555" stroke-width="1.0" stroke-linecap="butt"/>
<line x1="250.80" y1="340.00" x2="254.00" y2="340.00" stroke="#555" stroke-width="1.0" stroke-linecap="butt"/>
<line x1="28.80" y1="329.00" x2="28.80" y2="340.00" stroke="#555" stroke-width="1.0" stroke-linecap="butt"/>
<line x1="27.20" y1="329.00" x2="30.40" y2="329.00" stroke="#555" stroke-width="1.0" stroke-linecap="butt"/>
<line x1="27.20" y1="340.00" x2="30.40" y2="340.00" stroke="#555" stroke-width="1.0" stroke-linecap="butt"/>
<line x1="57.30" y1="336.00" x2="57.30" y2="347.50" stroke="#555" stroke-width="1.0" stroke-linecap="butt"/>
<line x1="55.70" y1="336.00" x2="58.90" y2="336.00" stroke="#555" stroke-width="1.0" stroke-linecap="butt"/>
<line x1="55.70" y1="347.50" x2="58.90" y2="347.50" stroke="#555" stroke-width="1.0" stroke-linecap="butt"/>
<line x1="84.90" y1="343.00" x2="84.90" y2="353.00" stroke="#555" stroke-width="1.0" stroke-linecap="butt"/>
<line x1="83.30" y1="343.00" x2="86.50" y2="343.00" stroke="#555" stroke-width="1.0" stroke-linecap="butt"/>
<line x1="83.30" y1="353.00" x2="86.50" y2="353.00" stroke="#555" stroke-width="1.0" stroke-linecap="butt"/>
<line x1="112.50" y1="347.00" x2="112.50" y2="358.00" stroke="#555" stroke-width="1.0" stroke-linecap="butt"/>
<line x1="110.90" y1="347.00" x2="114.10" y2="347.00" stroke="#555" stroke-width="1.0" stroke-linecap="butt"/>
<line x1="110.90" y1="358.00" x2="114.10" y2="358.00" stroke="#555" stroke-width="1.0" stroke-linecap="butt"/>
<line x1="139.80" y1="334.60" x2="139.80" y2="353.00" stroke="#555" stroke-width="1.0" stroke-linecap="butt"/>
<line x1="138.20" y1="334.60" x2="141.40" y2="334.60" stroke="#555" stroke-width="1.0" stroke-linecap="butt"/>
<line x1="138.20" y1="353.00" x2="141.40" y2="353.00" stroke="#555" stroke-width="1.0" stroke-linecap="butt"/>
<line x1="168.00" y1="328.50" x2="168.00" y2="358.50" stroke="#555" stroke-width="1.0" stroke-linecap="butt"/>
<line x1="166.40" y1="328.50" x2="169.60" y2="328.50" stroke="#555" stroke-width="1.0" stroke-linecap="butt"/>
<line x1="166.40" y1="358.50" x2="169.60" y2="358.50" stroke="#555" stroke-width="1.0" stroke-linecap="butt"/>
<line x1="195.80" y1="322.00" x2="195.80" y2="351.70" stroke="#555" stroke-width="1.0" stroke-linecap="butt"/>
<line x1="194.20" y1="322.00" x2="197.40" y2="322.00" stroke="#555" stroke-width="1.0" stroke-linecap="butt"/>
<line x1="194.20" y1="351.70" x2="197.40" y2="351.70" stroke="#555" stroke-width="1.0" stroke-linecap="butt"/>
<line x1="223.60" y1="306.10" x2="223.60" y2="331.80" stroke="#555" stroke-width="1.0" stroke-linecap="butt"/>
<line x1="222.00" y1="306.10" x2="225.20" y2="306.10" stroke="#555" stroke-width="1.0" stroke-linecap="butt"/>
<line x1="222.00" y1="331.80" x2="225.20" y2="331.80" stroke="#555" stroke-width="1.0" stroke-linecap="butt"/>
<line x1="250.60" y1="328.00" x2="250.60" y2="349.80" stroke="#555" stroke-width="1.0" stroke-linecap="butt"/>
<line x1="249.00" y1="328.00" x2="252.20" y2="328.00" stroke="#555" stroke-width="1.0" stroke-linecap="butt"/>
<line x1="249.00" y1="349.80" x2="252.20" y2="349.80" stroke="#555" stroke-width="1.0" stroke-linecap="butt"/>
<path d="M28.80 327.40 L33.20 331.80 L28.80 336.20 L24.40 331.80 Z" fill="#000" stroke="#000" stroke-width="0.6"/>
<path d="M57.30 340.00 L61.70 344.40 L57.30 348.80 L52.90 344.40 Z" fill="#000" stroke="#000" stroke-width="0.6"/>
<path d="M84.90 336.90 L89.30 341.30 L84.90 345.70 L80.50 341.30 Z" fill="#000" stroke="#000" stroke-width="0.6"/>
<path d="M112.50 347.60 L116.90 352.00 L112.50 356.40 L108.10 352.00 Z" fill="#000" stroke="#000" stroke-width="0.6"/>
<path d="M139.80 342.90 L144.20 347.30 L139.80 351.70 L135.40 347.30 Z" fill="#000" stroke="#000" stroke-width="0.6"/>
<path d="M168.00 342.10 L172.40 346.50 L168.00 350.90 L163.60 346.50 Z" fill="#000" stroke="#000" stroke-width="0.6"/>
<path d="M195.80 287.10 L200.20 291.50 L195.80 295.90 L191.40 291.50 Z" fill="#000" stroke="#000" stroke-width="0.6"/>
<path d="M223.60 284.60 L228.00 289.00 L223.60 293.40 L219.20 289.00 Z" fill="#000" stroke="#000" stroke-width="0.6"/>
<path d="M251.20 310.70 L255.60 315.10 L251.20 319.50 L246.80 315.10 Z" fill="#000" stroke="#000" stroke-width="0.6"/>
<path d="M28.80 336.60 L32.80 340.60 L28.80 344.60 L24.80 340.60 Z" fill="#fff" stroke="#222" stroke-width="1.0"/>
<path d="M57.30 344.00 L61.30 348.00 L57.30 352.00 L53.30 348.00 Z" fill="#fff" stroke="#222" stroke-width="1.0"/>
<path d="M84.90 351.40 L88.90 355.40 L84.90 359.40 L80.90 355.40 Z" fill="#fff" stroke="#222" stroke-width="1.0"/>
<path d="M112.50 355.30 L116.50 359.30 L112.50 363.30 L108.50 359.30 Z" fill="#fff" stroke="#222" stroke-width="1.0"/>
<path d="M139.80 347.30 L143.80 351.30 L139.80 355.30 L135.80 351.30 Z" fill="#fff" stroke="#222" stroke-width="1.0"/>
<path d="M168.00 349.30 L172.00 353.30 L168.00 357.30 L164.00 353.30 Z" fill="#fff" stroke="#222" stroke-width="1.0"/>
<path d="M195.80 320.80 L199.80 324.80 L195.80 328.80 L191.80 324.80 Z" fill="#fff" stroke="#222" stroke-width="1.0"/>
<path d="M223.60 260.00 L227.60 264.00 L223.60 268.00 L219.60 264.00 Z" fill="#fff" stroke="#222" stroke-width="1.0"/>
<path d="M252.40 330.10 L256.40 334.10 L252.40 338.10 L248.40 334.10 Z" fill="#fff" stroke="#222" stroke-width="1.0"/>
<circle cx="28.80" cy="334.40" r="3.90" fill="#666" stroke="#444" stroke-width="0.9"/>
<circle cx="57.30" cy="341.80" r="3.90" fill="#666" stroke="#444" stroke-width="0.9"/>
<circle cx="84.90" cy="348.00" r="3.90" fill="#666" stroke="#444" stroke-width="0.9"/>
<circle cx="112.50" cy="352.50" r="3.90" fill="#666" stroke="#444" stroke-width="0.9"/>
<circle cx="139.80" cy="343.90" r="3.90" fill="#666" stroke="#444" stroke-width="0.9"/>
<circle cx="168.00" cy="343.70" r="3.90" fill="#666" stroke="#444" stroke-width="0.9"/>
<circle cx="195.80" cy="336.60" r="3.90" fill="#666" stroke="#444" stroke-width="0.9"/>
<circle cx="223.60" cy="318.90" r="3.90" fill="#666" stroke="#444" stroke-width="0.9"/>
<circle cx="250.60" cy="333.40" r="3.90" fill="#666" stroke="#444" stroke-width="0.9"/>
<path d="M252.40 330.10 L256.40 334.10 L252.40 338.10 L248.40 334.10 Z" fill="#fff" stroke="#222" stroke-width="1.0"/>
<line x1="40.00" y1="241.50" x2="54.00" y2="241.50" stroke="#444" stroke-width="1" stroke-linecap="butt"/>
<path d="M47.00 237.50 L51.00 241.50 L47.00 245.50 L43.00 241.50 Z" fill="#fff" stroke="#222" stroke-width="1.0"/>
<text x="56.60" y="246.10" font-size="8.9" text-anchor="start" fill="#222" stroke="#222" stroke-width="0.15">mPF4</text>
<text x="80.60" y="242.90" font-size="8.4" fill="#222" stroke="#222" stroke-width="0.15">-/-</text>
<line x1="40.00" y1="255.30" x2="54.00" y2="255.30" stroke="#666" stroke-width="1" stroke-linecap="butt"/>
<circle cx="47.00" cy="255.30" r="3.80" fill="#666" stroke="#444" stroke-width="0.9"/>
<text x="56.60" y="258.50" font-size="8.9" text-anchor="start" fill="#222" stroke="#222" stroke-width="0.15">WT</text>
<line x1="38.30" y1="265.40" x2="54.70" y2="265.40" stroke="#000" stroke-width="2.3" stroke-linecap="butt"/>
<path d="M47.00 261.30 L51.10 265.40 L47.00 269.50 L42.90 265.40 Z" fill="#000" stroke="#000" stroke-width="0.6"/>
<text x="56.60" y="270.70" font-size="8.9" text-anchor="start" fill="#222" stroke="#222" stroke-width="0.15">hPF4X6</text>
<text x="88.40" y="267.60" font-size="8.8" fill="#222" stroke="#222" stroke-width="0.15">+</text>
<text transform="translate(267.60 230.60) scale(0.92 1.04)" x="0" y="0" font-size="19.2" font-weight="bold" fill="#000" stroke="#000" stroke-width="0.7" stroke-linejoin="round">D</text>
<line x1="300.30" y1="240.70" x2="300.30" y2="367.80" stroke="#bcbcbc" stroke-width="1.1" stroke-linecap="butt"/>
<line x1="299.80" y1="365.50" x2="512.30" y2="365.50" stroke="#bcbcbc" stroke-width="1.1" stroke-linecap="butt"/>
<line x1="297.60" y1="365.50" x2="300.30" y2="365.50" stroke="#bcbcbc" stroke-width="1" stroke-linecap="butt"/>
<text x="285.30" y="367.90" font-size="8.2" text-anchor="start" fill="#333" stroke="#222" stroke-width="0.15">0</text>
<line x1="297.60" y1="349.90" x2="300.30" y2="349.90" stroke="#bcbcbc" stroke-width="1" stroke-linecap="butt"/>
<text x="285.30" y="352.30" font-size="8.2" text-anchor="start" fill="#333" stroke="#222" stroke-width="0.15">2</text>
<line x1="297.60" y1="334.30" x2="300.30" y2="334.30" stroke="#bcbcbc" stroke-width="1" stroke-linecap="butt"/>
<text x="285.30" y="336.70" font-size="8.2" text-anchor="start" fill="#333" stroke="#222" stroke-width="0.15">4</text>
<line x1="297.60" y1="318.70" x2="300.30" y2="318.70" stroke="#bcbcbc" stroke-width="1" stroke-linecap="butt"/>
<text x="285.30" y="321.10" font-size="8.2" text-anchor="start" fill="#333" stroke="#222" stroke-width="0.15">6</text>
<line x1="297.60" y1="303.10" x2="300.30" y2="303.10" stroke="#bcbcbc" stroke-width="1" stroke-linecap="butt"/>
<text x="285.30" y="305.50" font-size="8.2" text-anchor="start" fill="#333" stroke="#222" stroke-width="0.15">8</text>
<line x1="297.60" y1="287.50" x2="300.30" y2="287.50" stroke="#bcbcbc" stroke-width="1" stroke-linecap="butt"/>
<text x="285.30" y="289.90" font-size="8.2" text-anchor="start" fill="#333" textLength="7.6" lengthAdjust="spacingAndGlyphs" stroke="#222" stroke-width="0.15">10</text>
<line x1="297.60" y1="271.90" x2="300.30" y2="271.90" stroke="#bcbcbc" stroke-width="1" stroke-linecap="butt"/>
<text x="285.30" y="274.30" font-size="8.2" text-anchor="start" fill="#333" textLength="7.6" lengthAdjust="spacingAndGlyphs" stroke="#222" stroke-width="0.15">12</text>
<line x1="297.60" y1="256.30" x2="300.30" y2="256.30" stroke="#bcbcbc" stroke-width="1" stroke-linecap="butt"/>
<text x="285.30" y="258.70" font-size="8.2" text-anchor="start" fill="#333" textLength="7.6" lengthAdjust="spacingAndGlyphs" stroke="#222" stroke-width="0.15">14</text>
<line x1="297.60" y1="240.70" x2="300.30" y2="240.70" stroke="#bcbcbc" stroke-width="1" stroke-linecap="butt"/>
<text x="285.30" y="243.10" font-size="8.2" text-anchor="start" fill="#333" textLength="7.6" lengthAdjust="spacingAndGlyphs" stroke="#222" stroke-width="0.15">16</text>
<line x1="300.30" y1="365.50" x2="300.30" y2="368.00" stroke="#bcbcbc" stroke-width="1" stroke-linecap="butt"/>
<text x="300.30" y="379.40" font-size="8.8" text-anchor="middle" fill="#333" stroke="#222" stroke-width="0.15">0</text>
<line x1="330.80" y1="365.50" x2="330.80" y2="368.00" stroke="#bcbcbc" stroke-width="1" stroke-linecap="butt"/>
<text x="330.80" y="379.40" font-size="8.8" text-anchor="middle" fill="#333" stroke="#222" stroke-width="0.15">2</text>
<line x1="361.30" y1="365.50" x2="361.30" y2="368.00" stroke="#bcbcbc" stroke-width="1" stroke-linecap="butt"/>
<text x="361.30" y="379.40" font-size="8.8" text-anchor="middle" fill="#333" stroke="#222" stroke-width="0.15">4</text>
<line x1="391.80" y1="365.50" x2="391.80" y2="368.00" stroke="#bcbcbc" stroke-width="1" stroke-linecap="butt"/>
<text x="391.80" y="379.40" font-size="8.8" text-anchor="middle" fill="#333" stroke="#222" stroke-width="0.15">6</text>
<line x1="422.30" y1="365.50" x2="422.30" y2="368.00" stroke="#bcbcbc" stroke-width="1" stroke-linecap="butt"/>
<text x="422.30" y="379.40" font-size="8.8" text-anchor="middle" fill="#333" stroke="#222" stroke-width="0.15">8</text>
<line x1="452.80" y1="365.50" x2="452.80" y2="368.00" stroke="#bcbcbc" stroke-width="1" stroke-linecap="butt"/>
<text x="452.80" y="379.40" font-size="8.8" text-anchor="middle" fill="#333" stroke="#222" stroke-width="0.15">10</text>
<line x1="483.30" y1="365.50" x2="483.30" y2="368.00" stroke="#bcbcbc" stroke-width="1" stroke-linecap="butt"/>
<text x="483.30" y="379.40" font-size="8.8" text-anchor="middle" fill="#333" stroke="#222" stroke-width="0.15">12</text>
<line x1="513.80" y1="365.50" x2="513.80" y2="368.00" stroke="#bcbcbc" stroke-width="1" stroke-linecap="butt"/>
<text x="513.80" y="379.40" font-size="8.8" text-anchor="middle" fill="#333" stroke="#222" stroke-width="0.15">14</text>
<text x="396.20" y="392.50" font-size="8.6" text-anchor="middle" fill="#333" textLength="73" lengthAdjust="spacingAndGlyphs" stroke="#222" stroke-width="0.15">Days after injection</text>
<text x="278.70" y="301.50" font-size="9" text-anchor="middle" fill="#333" textLength="81.4" lengthAdjust="spacingAndGlyphs" transform="rotate(-90 278.70 301.50)" stroke="#222" stroke-width="0.15">Hemoglobin (gm/dL)</text>
<polyline points="300.30,264.00 346.05,268.90 376.55,299.20 407.05,313.80 452.80,322.60 483.30,315.00" fill="none" stroke="#333" stroke-width="1.0" stroke-linejoin="round"/>
<polyline points="300.30,264.20 346.05,294.30 376.55,301.80 407.05,323.10 452.80,326.50 483.30,315.50" fill="none" stroke="#555" stroke-width="1.0" stroke-linejoin="round"/>
<polyline points="300.30,263.10 346.05,275.90 376.55,308.90 407.05,323.10 452.80,328.10 483.30,315.50" fill="none" stroke="#000" stroke-width="2.4" stroke-linejoin="round" stroke-dasharray="4.2 2.9"/>
<line x1="300.30" y1="262.00" x2="300.30" y2="266.00" stroke="#555" stroke-width="1.0" stroke-linecap="butt"/>
<line x1="298.70" y1="262.00" x2="301.90" y2="262.00" stroke="#555" stroke-width="1.0" stroke-linecap="butt"/>
<line x1="298.70" y1="266.00" x2="301.90" y2="266.00" stroke="#555" stroke-width="1.0" stroke-linecap="butt"/>
<line x1="346.05" y1="265.40" x2="346.05" y2="272.00" stroke="#555" stroke-width="1.0" stroke-linecap="butt"/>
<line x1="344.45" y1="265.40" x2="347.65" y2="265.40" stroke="#555" stroke-width="1.0" stroke-linecap="butt"/>
<line x1="344.45" y1="272.00" x2="347.65" y2="272.00" stroke="#555" stroke-width="1.0" stroke-linecap="butt"/>
<line x1="376.55" y1="284.60" x2="376.55" y2="306.00" stroke="#555" stroke-width="1.0" stroke-linecap="butt"/>
<line x1="374.95" y1="284.60" x2="378.15" y2="284.60" stroke="#555" stroke-width="1.0" stroke-linecap="butt"/>
<line x1="374.95" y1="306.00" x2="378.15" y2="306.00" stroke="#555" stroke-width="1.0" stroke-linecap="butt"/>
<line x1="407.05" y1="297.20" x2="407.05" y2="325.00" stroke="#555" stroke-width="1.0" stroke-linecap="butt"/>
<line x1="405.45" y1="297.20" x2="408.65" y2="297.20" stroke="#555" stroke-width="1.0" stroke-linecap="butt"/>
<line x1="405.45" y1="325.00" x2="408.65" y2="325.00" stroke="#555" stroke-width="1.0" stroke-linecap="butt"/>
<line x1="452.80" y1="305.30" x2="452.80" y2="335.00" stroke="#555" stroke-width="1.0" stroke-linecap="butt"/>
<line x1="451.20" y1="305.30" x2="454.40" y2="305.30" stroke="#555" stroke-width="1.0" stroke-linecap="butt"/>
<line x1="451.20" y1="335.00" x2="454.40" y2="335.00" stroke="#555" stroke-width="1.0" stroke-linecap="butt"/>
<line x1="483.30" y1="292.40" x2="483.30" y2="335.00" stroke="#555" stroke-width="1.0" stroke-linecap="butt"/>
<line x1="481.70" y1="292.40" x2="484.90" y2="292.40" stroke="#555" stroke-width="1.0" stroke-linecap="butt"/>
<line x1="481.70" y1="335.00" x2="484.90" y2="335.00" stroke="#555" stroke-width="1.0" stroke-linecap="butt"/>
<line x1="300.30" y1="262.00" x2="300.30" y2="268.00" stroke="#555" stroke-width="1.0" stroke-linecap="butt"/>
<line x1="298.70" y1="262.00" x2="301.90" y2="262.00" stroke="#555" stroke-width="1.0" stroke-linecap="butt"/>
<line x1="298.70" y1="268.00" x2="301.90" y2="268.00" stroke="#555" stroke-width="1.0" stroke-linecap="butt"/>
<line x1="346.05" y1="282.20" x2="346.05" y2="304.90" stroke="#555" stroke-width="1.0" stroke-linecap="butt"/>
<line x1="344.45" y1="282.20" x2="347.65" y2="282.20" stroke="#555" stroke-width="1.0" stroke-linecap="butt"/>
<line x1="344.45" y1="304.90" x2="347.65" y2="304.90" stroke="#555" stroke-width="1.0" stroke-linecap="butt"/>
<line x1="376.55" y1="290.00" x2="376.55" y2="315.00" stroke="#555" stroke-width="1.0" stroke-linecap="butt"/>
<line x1="374.95" y1="290.00" x2="378.15" y2="290.00" stroke="#555" stroke-width="1.0" stroke-linecap="butt"/>
<line x1="374.95" y1="315.00" x2="378.15" y2="315.00" stroke="#555" stroke-width="1.0" stroke-linecap="butt"/>
<line x1="407.05" y1="315.00" x2="407.05" y2="333.50" stroke="#555" stroke-width="1.0" stroke-linecap="butt"/>
<line x1="405.45" y1="315.00" x2="408.65" y2="315.00" stroke="#555" stroke-width="1.0" stroke-linecap="butt"/>
<line x1="405.45" y1="333.50" x2="408.65" y2="333.50" stroke="#555" stroke-width="1.0" stroke-linecap="butt"/>
<line x1="452.80" y1="312.00" x2="452.80" y2="344.50" stroke="#555" stroke-width="1.0" stroke-linecap="butt"/>
<line x1="451.20" y1="312.00" x2="454.40" y2="312.00" stroke="#555" stroke-width="1.0" stroke-linecap="butt"/>
<line x1="451.20" y1="344.50" x2="454.40" y2="344.50" stroke="#555" stroke-width="1.0" stroke-linecap="butt"/>
<line x1="483.30" y1="295.00" x2="483.30" y2="341.10" stroke="#555" stroke-width="1.0" stroke-linecap="butt"/>
<line x1="481.70" y1="295.00" x2="484.90" y2="295.00" stroke="#555" stroke-width="1.0" stroke-linecap="butt"/>
<line x1="481.70" y1="341.10" x2="484.90" y2="341.10" stroke="#555" stroke-width="1.0" stroke-linecap="butt"/>
<line x1="300.30" y1="260.00" x2="300.30" y2="268.00" stroke="#555" stroke-width="1.0" stroke-linecap="butt"/>
<line x1="298.70" y1="260.00" x2="301.90" y2="260.00" stroke="#555" stroke-width="1.0" stroke-linecap="butt"/>
<line x1="298.70" y1="268.00" x2="301.90" y2="268.00" stroke="#555" stroke-width="1.0" stroke-linecap="butt"/>
<line x1="346.05" y1="271.00" x2="346.05" y2="284.00" stroke="#555" stroke-width="1.0" stroke-linecap="butt"/>
<line x1="344.45" y1="271.00" x2="347.65" y2="271.00" stroke="#555" stroke-width="1.0" stroke-linecap="butt"/>
<line x1="344.45" y1="284.00" x2="347.65" y2="284.00" stroke="#555" stroke-width="1.0" stroke-linecap="butt"/>
<line x1="376.55" y1="300.00" x2="376.55" y2="318.30" stroke="#555" stroke-width="1.0" stroke-linecap="butt"/>
<line x1="374.95" y1="300.00" x2="378.15" y2="300.00" stroke="#555" stroke-width="1.0" stroke-linecap="butt"/>
<line x1="374.95" y1="318.30" x2="378.15" y2="318.30" stroke="#555" stroke-width="1.0" stroke-linecap="butt"/>
<line x1="407.05" y1="315.00" x2="407.05" y2="331.00" stroke="#555" stroke-width="1.0" stroke-linecap="butt"/>
<line x1="405.45" y1="315.00" x2="408.65" y2="315.00" stroke="#555" stroke-width="1.0" stroke-linecap="butt"/>
<line x1="405.45" y1="331.00" x2="408.65" y2="331.00" stroke="#555" stroke-width="1.0" stroke-linecap="butt"/>
<line x1="452.80" y1="318.00" x2="452.80" y2="338.00" stroke="#555" stroke-width="1.0" stroke-linecap="butt"/>
<line x1="451.20" y1="318.00" x2="454.40" y2="318.00" stroke="#555" stroke-width="1.0" stroke-linecap="butt"/>
<line x1="451.20" y1="338.00" x2="454.40" y2="338.00" stroke="#555" stroke-width="1.0" stroke-linecap="butt"/>
<line x1="483.30" y1="300.00" x2="483.30" y2="335.00" stroke="#555" stroke-width="1.0" stroke-linecap="butt"/>
<line x1="481.70" y1="300.00" x2="484.90" y2="300.00" stroke="#555" stroke-width="1.0" stroke-linecap="butt"/>
<line x1="481.70" y1="335.00" x2="484.90" y2="335.00" stroke="#555" stroke-width="1.0" stroke-linecap="butt"/>
<path d="M300.30 260.00 L304.30 264.00 L300.30 268.00 L296.30 264.00 Z" fill="#fff" stroke="#222" stroke-width="1.0"/>
<path d="M346.05 264.90 L350.05 268.90 L346.05 272.90 L342.05 268.90 Z" fill="#fff" stroke="#222" stroke-width="1.0"/>
<path d="M376.55 295.20 L380.55 299.20 L376.55 303.20 L372.55 299.20 Z" fill="#fff" stroke="#222" stroke-width="1.0"/>
<path d="M407.05 309.80 L411.05 313.80 L407.05 317.80 L403.05 313.80 Z" fill="#fff" stroke="#222" stroke-width="1.0"/>
<path d="M452.80 318.60 L456.80 322.60 L452.80 326.60 L448.80 322.60 Z" fill="#fff" stroke="#222" stroke-width="1.0"/>
<path d="M483.30 311.00 L487.30 315.00 L483.30 319.00 L479.30 315.00 Z" fill="#fff" stroke="#222" stroke-width="1.0"/>
<circle cx="300.30" cy="264.20" r="3.90" fill="#666" stroke="#444" stroke-width="0.9"/>
<circle cx="346.05" cy="294.30" r="3.90" fill="#666" stroke="#444" stroke-width="0.9"/>
<circle cx="376.55" cy="301.80" r="3.90" fill="#666" stroke="#444" stroke-width="0.9"/>
<circle cx="407.05" cy="323.10" r="3.90" fill="#666" stroke="#444" stroke-width="0.9"/>
<circle cx="452.80" cy="326.50" r="3.90" fill="#666" stroke="#444" stroke-width="0.9"/>
<circle cx="483.30" cy="315.50" r="3.90" fill="#666" stroke="#444" stroke-width="0.9"/>
<path d="M300.30 258.70 L304.70 263.10 L300.30 267.50 L295.90 263.10 Z" fill="#000" stroke="#000" stroke-width="0.6"/>
<path d="M346.05 271.50 L350.45 275.90 L346.05 280.30 L341.65 275.90 Z" fill="#000" stroke="#000" stroke-width="0.6"/>
<path d="M376.55 304.50 L380.95 308.90 L376.55 313.30 L372.15 308.90 Z" fill="#000" stroke="#000" stroke-width="0.6"/>
<path d="M407.05 318.70 L411.45 323.10 L407.05 327.50 L402.65 323.10 Z" fill="#000" stroke="#000" stroke-width="0.6"/>
<path d="M452.80 323.70 L457.20 328.10 L452.80 332.50 L448.40 328.10 Z" fill="#000" stroke="#000" stroke-width="0.6"/>
<path d="M483.30 311.10 L487.70 315.50 L483.30 319.90 L478.90 315.50 Z" fill="#000" stroke="#000" stroke-width="0.6"/>
<path d="M483.30 311.00 L487.30 315.00 L483.30 319.00 L479.30 315.00 Z" fill="#fff" stroke="#222" stroke-width="1.0"/>
<line x1="443.50" y1="241.10" x2="457.50" y2="241.10" stroke="#444" stroke-width="1" stroke-linecap="butt"/>
<path d="M450.50 237.10 L454.50 241.10 L450.50 245.10 L446.50 241.10 Z" fill="#fff" stroke="#222" stroke-width="1.0"/>
<text x="459.90" y="245.10" font-size="9.1" text-anchor="start" fill="#222" stroke="#222" stroke-width="0.15">mPF4</text>
<text x="485.20" y="241.60" font-size="8.4" fill="#222" stroke="#222" stroke-width="0.15">-/-</text>
<line x1="443.50" y1="253.40" x2="457.50" y2="253.40" stroke="#666" stroke-width="1" stroke-linecap="butt"/>
<circle cx="450.50" cy="253.40" r="3.80" fill="#666" stroke="#444" stroke-width="0.9"/>
<text x="459.90" y="256.80" font-size="9.1" text-anchor="start" fill="#222" stroke="#222" stroke-width="0.15">WT</text>
<line x1="441.80" y1="264.90" x2="458.20" y2="264.90" stroke="#000" stroke-width="2.3" stroke-linecap="butt"/>
<path d="M450.50 260.80 L454.60 264.90 L450.50 269.00 L446.40 264.90 Z" fill="#000" stroke="#000" stroke-width="0.6"/>
<text x="459.90" y="269.30" font-size="9.1" text-anchor="start" fill="#222" stroke="#222" stroke-width="0.15">hPF4X6</text>
<text x="493.50" y="266.40" font-size="8.8" fill="#222" stroke="#222" stroke-width="0.15">+</text>
</svg>
</body></html>
